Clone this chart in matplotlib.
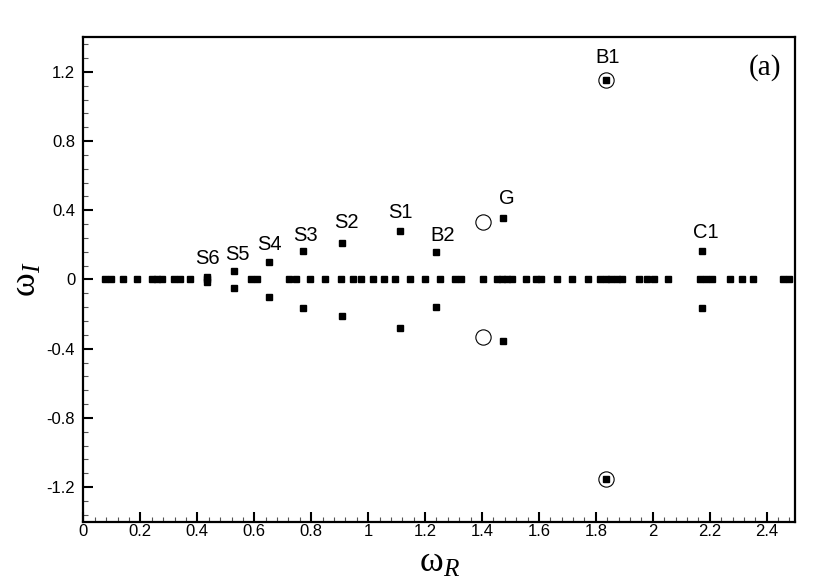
import matplotlib
matplotlib.use("Agg")
import matplotlib.pyplot as plt
from matplotlib.ticker import MultipleLocator

# eigenvalues lying on the real axis (omega_I = 0)
real_axis_wr = [
    0.076, 0.097, 0.138, 0.189, 0.239, 0.257, 0.275, 0.319, 0.339, 0.374,
    0.433, 0.587, 0.608, 0.721, 0.745, 0.796, 0.850, 0.903, 0.948, 0.975,
    1.018, 1.055, 1.095, 1.147, 1.201, 1.252, 1.306, 1.326, 1.404, 1.451,
    1.470, 1.489, 1.507, 1.553, 1.589, 1.607, 1.662, 1.716, 1.773, 1.814,
    1.834, 1.853, 1.873, 1.892, 1.953, 1.978, 2.003, 2.052, 2.165, 2.187,
    2.208, 2.271, 2.314, 2.353, 2.458, 2.478,
]

# complex-conjugate pairs (plotted at +/- omega_I)
pair_wr = [0.433, 0.529, 0.651, 0.770, 0.909, 1.112, 1.240, 1.475, 1.835, 2.173]
pair_wi = [0.015, 0.048, 0.100, 0.162, 0.213, 0.283, 0.160, 0.354, 1.155, 0.162]

# open circles highlighting selected modes
circle_wr = [1.402, 1.402, 1.834, 1.834]
circle_wi = [0.330, -0.330, 1.155, -1.155]

# mode labels
label_text = ["S6", "S5", "S4", "S3", "S2", "S1", "B2", "G", "C1", "B1"]
label_wr = [0.434, 0.539, 0.652, 0.778, 0.922, 1.112, 1.262, 1.487, 2.186, 1.842]
label_wi = [0.119, 0.147, 0.200, 0.257, 0.327, 0.385, 0.257, 0.466, 0.269, 1.281]


def main() -> None:
    plt.rcParams["mathtext.fontset"] = "custom"
    plt.rcParams["mathtext.rm"] = "Liberation Serif"
    plt.rcParams["mathtext.it"] = "Liberation Serif:italic"
    plt.rcParams["font.family"] = ["Liberation Sans", "DejaVu Sans"]

    fig = plt.figure(figsize=(8.3, 5.88), dpi=100)
    ax = fig.add_axes([0.1006, 0.1128, 0.8574, 0.8238])

    sq = dict(marker="s", markersize=3.8, color="black", linestyle="none")
    ax.plot(real_axis_wr, [0.0] * len(real_axis_wr), **sq)
    ax.plot(pair_wr, pair_wi, **sq)
    ax.plot(pair_wr, [-v for v in pair_wi], **sq)
    ax.plot(circle_wr, circle_wi, marker="o", markersize=11, markerfacecolor="none",
            markeredgecolor="black", markeredgewidth=0.8, linestyle="none")

    for txt, x, y in zip(label_text, label_wr, label_wi):
        ax.text(x, y, txt, fontsize=14.5, ha="center", va="center")

    ax.text(2.393, 1.225, "(a)", fontsize=21, family="Liberation Serif",
            ha="center", va="center")

    ax.set_xlim(0, 2.5)
    ax.set_ylim(-1.4, 1.4)
    ax.xaxis.set_major_locator(MultipleLocator(0.2))
    ax.xaxis.set_minor_locator(MultipleLocator(0.04))
    ax.yaxis.set_major_locator(MultipleLocator(0.4))
    ax.yaxis.set_minor_locator(MultipleLocator(0.08))
    ax.xaxis.set_major_formatter(plt.FuncFormatter(lambda v, p: f"{v:g}"))
    ax.yaxis.set_major_formatter(plt.FuncFormatter(lambda v, p: f"{v:g}" if abs(v) > 1e-9 else "0"))

    ax.tick_params(which="both", direction="in", top=False, right=False)
    ax.tick_params(which="major", length=7, width=1.5, labelsize=12, pad=2)
    ax.tick_params(axis="y", which="major", pad=6)
    ax.tick_params(which="minor", length=3.5, width=0.8, color="#555555")
    for s in ax.spines.values():
        s.set_linewidth(1.6)

    ax.set_xlabel(r"$\mathrm{\omega}_{R}$", fontsize=26, labelpad=4)
    ax.set_ylabel(r"$\mathrm{\omega}_{I}$", fontsize=26, labelpad=2)

    fig.savefig("out.png", dpi=100)
    plt.close(fig)


if __name__ == "__main__":
    main()
